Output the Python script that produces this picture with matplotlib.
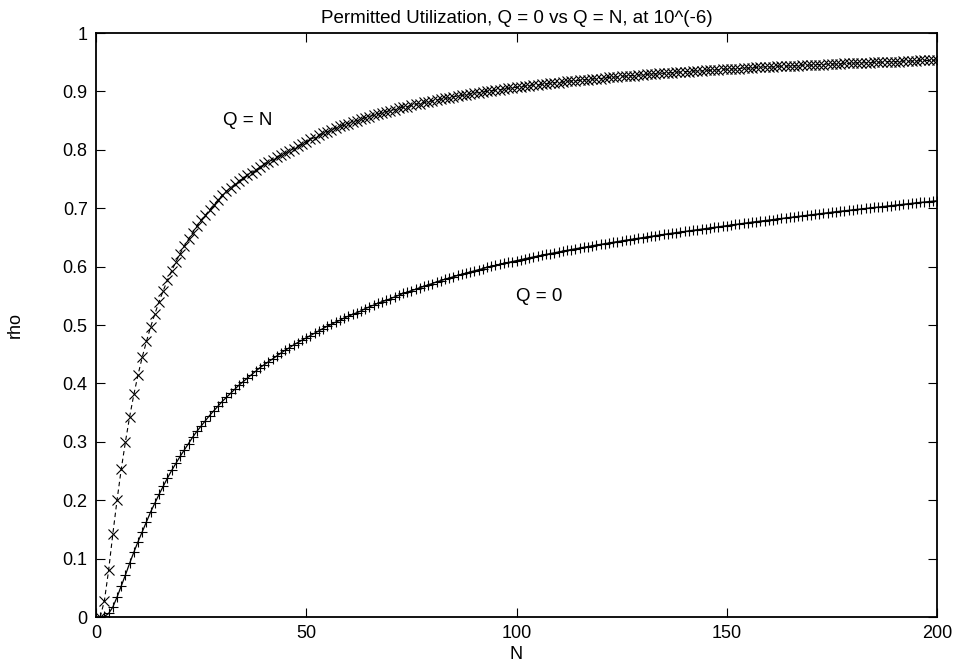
import numpy as np
from matplotlib import pyplot as plt

plt.rcParams['font.family'] = ['Liberation Sans', 'DejaVu Sans']

# number of sources N = 1..200
n_values = list(range(1, 201))

# permitted utilization with Q = N
rho_q_n = [
    0.000, 0.028, 0.080, 0.142, 0.200, 0.253, 0.300, 0.343, 0.381, 0.415,
    0.445, 0.472, 0.497, 0.519, 0.540, 0.559, 0.577, 0.593, 0.608, 0.622,
    0.635, 0.647, 0.658, 0.669, 0.679, 0.688, 0.697, 0.706, 0.714, 0.722,
    0.729, 0.735, 0.741, 0.746, 0.751, 0.756, 0.761, 0.766, 0.770, 0.775,
    0.779, 0.783, 0.787, 0.791, 0.794, 0.798, 0.802, 0.806, 0.810, 0.814,
    0.818, 0.821, 0.825, 0.828, 0.831, 0.834, 0.837, 0.840, 0.842, 0.845,
    0.848, 0.850, 0.852, 0.855, 0.857, 0.859, 0.861, 0.863, 0.865, 0.867,
    0.869, 0.871, 0.873, 0.874, 0.876, 0.878, 0.879, 0.881, 0.882, 0.884,
    0.885, 0.887, 0.888, 0.889, 0.891, 0.892, 0.893, 0.894, 0.896, 0.897,
    0.898, 0.899, 0.900, 0.901, 0.902, 0.903, 0.904, 0.905, 0.906, 0.907,
    0.908, 0.909, 0.910, 0.911, 0.911, 0.912, 0.913, 0.914, 0.915, 0.915,
    0.916, 0.917, 0.918, 0.918, 0.919, 0.920, 0.920, 0.921, 0.922, 0.922,
    0.923, 0.924, 0.924, 0.925, 0.926, 0.926, 0.927, 0.927, 0.928, 0.928,
    0.929, 0.930, 0.930, 0.931, 0.931, 0.932, 0.932, 0.933, 0.933, 0.934,
    0.934, 0.935, 0.935, 0.935, 0.936, 0.936, 0.937, 0.937, 0.938, 0.938,
    0.938, 0.939, 0.939, 0.940, 0.940, 0.940, 0.941, 0.941, 0.942, 0.942,
    0.942, 0.943, 0.943, 0.943, 0.944, 0.944, 0.944, 0.945, 0.945, 0.945,
    0.946, 0.946, 0.946, 0.947, 0.947, 0.947, 0.947, 0.948, 0.948, 0.948,
    0.949, 0.949, 0.949, 0.949, 0.950, 0.950, 0.950, 0.951, 0.951, 0.951,
    0.951, 0.952, 0.952, 0.952, 0.952, 0.953, 0.953, 0.953, 0.953, 0.954,
]

# permitted utilization with Q = 0
rho_q_0 = [
    0.000, 0.001, 0.006, 0.017, 0.034, 0.053, 0.072, 0.092, 0.111, 0.129,
    0.146, 0.163, 0.180, 0.195, 0.210, 0.224, 0.238, 0.251, 0.263, 0.275,
    0.286, 0.297, 0.308, 0.318, 0.327, 0.336, 0.345, 0.353, 0.361, 0.369,
    0.376, 0.383, 0.390, 0.397, 0.403, 0.409, 0.415, 0.421, 0.427, 0.432,
    0.437, 0.442, 0.447, 0.452, 0.457, 0.461, 0.466, 0.470, 0.474, 0.478,
    0.482, 0.486, 0.490, 0.494, 0.498, 0.501, 0.505, 0.508, 0.512, 0.515,
    0.518, 0.521, 0.524, 0.528, 0.531, 0.534, 0.537, 0.540, 0.542, 0.545,
    0.548, 0.551, 0.554, 0.556, 0.559, 0.561, 0.564, 0.566, 0.569, 0.571,
    0.574, 0.576, 0.5783, 0.5805, 0.5827, 0.5848, 0.5869, 0.5889, 0.5909, 0.5929,
    0.5948, 0.5967, 0.5985, 0.6003, 0.6021, 0.6038, 0.6055, 0.6071, 0.6087, 0.6103,
    0.6119, 0.6135, 0.6150, 0.6165, 0.6180, 0.6195, 0.6209, 0.6223, 0.6237, 0.6251,
    0.6265, 0.6279, 0.6292, 0.6305, 0.6318, 0.6331, 0.6344, 0.6357, 0.6369, 0.6381,
    0.6393, 0.6405, 0.6417, 0.6429, 0.6441, 0.6453, 0.6464, 0.6475, 0.6486, 0.6497,
    0.6508, 0.6519, 0.6530, 0.6541, 0.6552, 0.6562, 0.6572, 0.6582, 0.6592, 0.6602,
    0.6612, 0.6622, 0.6632, 0.6642, 0.6652, 0.6662, 0.6672, 0.6682, 0.6692, 0.6702,
    0.6712, 0.6722, 0.6732, 0.6742, 0.6752, 0.6761, 0.6770, 0.6779, 0.6788, 0.6797,
    0.6806, 0.6815, 0.6824, 0.6833, 0.6842, 0.6851, 0.6860, 0.6869, 0.6878, 0.6887,
    0.6896, 0.6905, 0.6914, 0.6923, 0.6932, 0.6940, 0.6948, 0.6956, 0.6964, 0.6972,
    0.6980, 0.6988, 0.6996, 0.7004, 0.7012, 0.7020, 0.7028, 0.7036, 0.7044, 0.7052,
    0.7060, 0.7068, 0.7076, 0.7084, 0.7092, 0.7099, 0.7106, 0.7113, 0.7120, 0.7127,
]

x_ticks = [0, 50, 100, 150, 200]
y_ticks = [0, 0.1, 0.2, 0.3, 0.4, 0.5, 0.6, 0.7, 0.8, 0.9, 1]
y_tick_labels = ['0', '0.1', '0.2', '0.3', '0.4', '0.5', '0.6', '0.7', '0.8', '0.9', '1']

fig = plt.figure(figsize=(9.56, 6.64), dpi=100)
ax = fig.add_axes([96 / 956, 1 - 617 / 664, 841 / 956, 584 / 664])

ax.plot(n_values, rho_q_n, color='black', linestyle=(0, (4, 3)), linewidth=0.8,
        marker='x', markersize=6.5, markeredgewidth=0.8)
ax.plot(n_values, rho_q_0, color='black', linestyle='-', linewidth=0.9,
        marker='+', markersize=7, markeredgewidth=0.8)

ax.text(36.0, 0.851, 'Q = N', ha='center', va='center', fontsize=13.5)
ax.text(105.4, 0.548, 'Q = 0', ha='center', va='center', fontsize=13.5)

ax.set_xlim(0, 200)
ax.set_ylim(0, 1)
ax.set_xticks(x_ticks)
ax.set_xticklabels([str(t) for t in x_ticks])
ax.set_yticks(y_ticks)
ax.set_yticklabels(y_tick_labels)
ax.tick_params(direction='in', length=6.5, width=0.8, top=True, right=True,
               labelsize=13, pad=6)
for spine in ax.spines.values():
    spine.set_linewidth(1.3)

ax.set_title('Permitted Utilization, Q = 0 vs Q = N, at 10^(-6)', fontsize=13.5, pad=7)
ax.set_xlabel('N', fontsize=13, labelpad=2.5)
ax.set_ylabel('rho', fontsize=13, labelpad=28)

fig.savefig('out.png', dpi=100)
